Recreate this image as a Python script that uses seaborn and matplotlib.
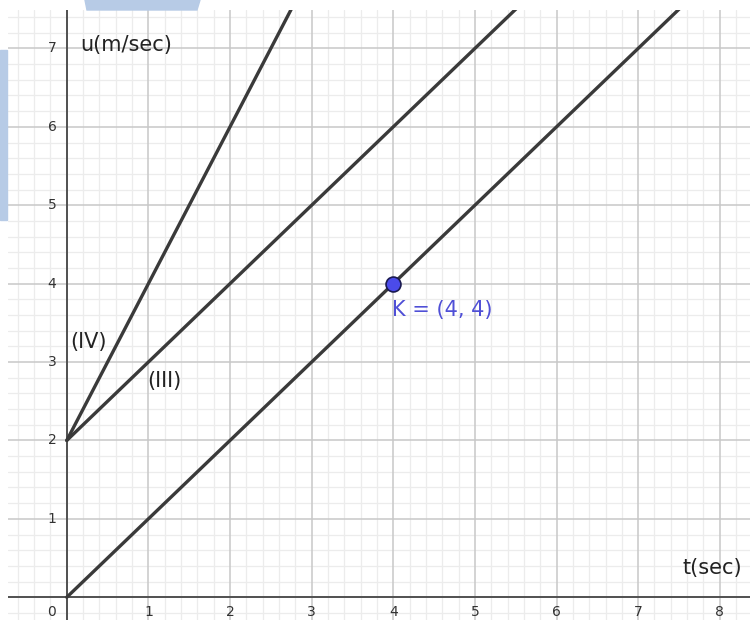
import numpy as np
import pandas as pd
import matplotlib
matplotlib.use("Agg")
import matplotlib.pyplot as plt
import seaborn as sns
from matplotlib.patches import Polygon, Rectangle

# u(t) straight lines, given by their end points
line_names = ["I", "III", "IV"]
line_t = [[0, 8], [0, 6], [0, 3]]
line_u = [[0, 8], [2, 8], [2, 8]]

# marked point
point_t = [4]
point_u = [4]
point_label = "K = (4, 4)"

x_ticks = [1, 2, 3, 4, 5, 6, 7, 8]
y_ticks = [1, 2, 3, 4, 5, 6, 7]

rows = []
for name, ts, us in zip(line_names, line_t, line_u):
    for t, u in zip(ts, us):
        rows.append({"line": name, "t": t, "u": u})
df = pd.DataFrame(rows)
pts = pd.DataFrame({"t": point_t, "u": point_u})

sns.set_theme(style="white")
plt.rcParams["font.family"] = ["DejaVu Sans"]

fig = plt.figure(figsize=(7.5, 6.2), dpi=100)
ax = fig.add_axes([8 / 750, 0, 1 - 8 / 750, 1 - 10 / 620])

xmin, xmax = -0.72, 8.37
ymin, ymax = -0.29, 7.49
ax.set_xlim(xmin, xmax)
ax.set_ylim(ymin, ymax)

# grid: minor every 0.2, major every 1
for v in np.arange(-0.6, 8.4, 0.2):
    if abs(v - round(v)) > 1e-6:
        ax.axvline(v, color="#ececec", lw=0.9, zorder=0)
for v in np.arange(-0.2, 7.6, 0.2):
    if abs(v - round(v)) > 1e-6:
        ax.axhline(v, color="#ececec", lw=0.9, zorder=0)
for v in x_ticks:
    ax.axvline(v, color="#c8c8c8", lw=1.1, zorder=0.5)
for v in y_ticks:
    ax.axhline(v, color="#c8c8c8", lw=1.1, zorder=0.5)

ax.axhline(0, color="#505050", lw=1.4, zorder=1)
ax.axvline(0, color="#505050", lw=1.4, zorder=1)

sns.lineplot(data=df, x="t", y="u", units="line", estimator=None,
             color="#3a3a3a", lw=2.4, ax=ax, zorder=3, legend=False)
sns.scatterplot(data=pts, x="t", y="u", s=115, color="#4b4bea",
                edgecolor="#1a1a50", linewidth=1.2, ax=ax, zorder=5, legend=False)

ax.set_xlabel("")
ax.set_ylabel("")
ax.set_xticks([])
ax.set_yticks([])
for s in ax.spines.values():
    s.set_visible(False)

# tick labels drawn inside the plane, next to the axes
for v in x_ticks:
    ax.text(v, -0.19, str(v), ha="center", va="center", fontsize=10, color="#333333")
ax.text(-0.19, -0.19, "0", ha="center", va="center", fontsize=10, color="#333333")
for v in y_ticks:
    ax.text(-0.18, v, str(v), ha="center", va="center", fontsize=10, color="#333333")

ax.text(0.16, 7.04, "u(m/sec)", ha="left", va="center", fontsize=15, color="#222222")
ax.text(8.27, 0.37, "t(sec)", ha="right", va="center", fontsize=15, color="#222222")
ax.text(0.04, 3.25, "(IV)", ha="left", va="center", fontsize=15, color="#222222")
ax.text(0.98, 2.76, "(III)", ha="left", va="center", fontsize=15, color="#222222")
ax.text(point_t[0] - 0.02, point_u[0] - 0.33, point_label, ha="left", va="center",
        fontsize=15, color="#4f4fd6")

# light blue bands at the figure edges
fig.patches.append(Rectangle((0, 1 - 220 / 620), 7 / 750, 170 / 620,
                             transform=fig.transFigure, color="#b7cbe6", zorder=10))
fig.patches.append(Polygon([(85 / 750, 1), (200 / 750, 1), (197 / 750, 1 - 10 / 620),
                            (87 / 750, 1 - 10 / 620)], closed=True,
                           transform=fig.transFigure, color="#b7cbe6", zorder=10))

fig.savefig("out.png", dpi=100)
